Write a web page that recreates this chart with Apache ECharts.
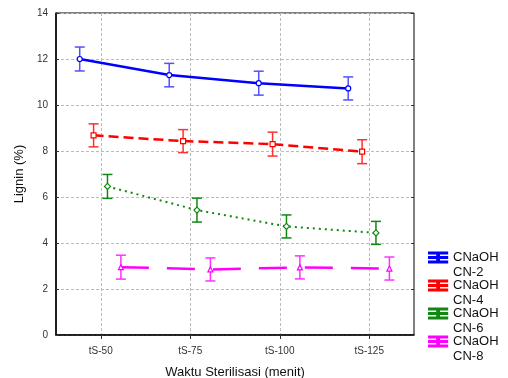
<!DOCTYPE html>
<html lang="en" style="height: 100%">
<head>
<meta charset="utf-8">
<title>Lignin vs Waktu Sterilisasi</title>
</head>
<body style="height: 100%; margin: 0; background: #fff">
<div id="container" style="height: 100%"></div>
<script type="text/javascript" src="https://cdn.jsdelivr.net/npm/echarts/dist/echarts.min.js"></script>
<script type="text/javascript">
// data
const categories = ['tS-50', 'tS-75', 'tS-100', 'tS-125'];
const seriesNames = ['CNaOH CN-2', 'CNaOH CN-4', 'CNaOH CN-6', 'CNaOH CN-8'];
const cn2Mean = [12.0, 11.3, 10.95, 10.72];
const cn2Err = [0.52, 0.51, 0.52, 0.5];
const cn4Mean = [8.68, 8.43, 8.3, 7.97];
const cn4Err = [0.5, 0.5, 0.52, 0.52];
const cn6Mean = [6.46, 5.43, 4.72, 4.44];
const cn6Err = [0.52, 0.52, 0.5, 0.5];
const cn8Mean = [2.95, 2.85, 2.94, 2.89];
const cn8Err = [0.52, 0.5, 0.5, 0.5];

const yTicks = [0, 2, 4, 6, 8, 10, 12, 14];

var dom = document.getElementById('container');
var myChart = echarts.init(dom);

// horizontal dodge of each series within a category (in category units)
const dodge = [-0.235, -0.08, 0.075, 0.225];
const colors = ['#0000ff', '#ff0000', '#118811', '#ff00ff'];
const barColors = ['#5050ff', '#ff3030', '#118811', '#ff30ff'];
const symbols = ['circle', 'rect', 'diamond', 'triangle'];
const dashes = ['solid', [10, 5], [2, 4], [28, 18]];
const widths = [2.5, 2.5, 2, 2.5];
const means = [cn2Mean, cn4Mean, cn6Mean, cn8Mean];
const errs = [cn2Err, cn4Err, cn6Err, cn8Err];

const series = [];
means.forEach(function (m, s) {
    series.push({
        name: seriesNames[s],
        type: 'line',
        data: m.map(function (v, i) { return [i + 1 + dodge[s], v]; }),
        symbol: symbols[s],
        symbolSize: s === 2 ? 6 : 5,
        showSymbol: true,
        color: colors[s],
        lineStyle: { color: colors[s], width: widths[s], type: dashes[s] },
        itemStyle: { color: '#fff', borderColor: colors[s], borderWidth: 1.2 },
        z: 3
    });
    series.push({
        name: seriesNames[s],
        type: 'custom',
        data: m.map(function (v, i) { return [i + 1 + dodge[s], v - errs[s][i], v + errs[s][i]]; }),
        encode: { x: 0, y: [1, 2] },
        z: 2,
        renderItem: function (params, api) {
            const x = api.value(0);
            const lo = api.coord([x, api.value(1)]);
            const hi = api.coord([x, api.value(2)]);
            const w = 5;
            const st = { stroke: barColors[s], lineWidth: 1.5 };
            return {
                type: 'group',
                children: [
                    { type: 'line', shape: { x1: lo[0], y1: lo[1], x2: hi[0], y2: hi[1] }, style: st },
                    { type: 'line', shape: { x1: lo[0] - w, y1: lo[1], x2: lo[0] + w, y2: lo[1] }, style: st },
                    { type: 'line', shape: { x1: hi[0] - w, y1: hi[1], x2: hi[0] + w, y2: hi[1] }, style: st }
                ]
            };
        }
    });
});

const tickPos = categories.map(function (c, i) { return i + 1; });

option = {
    animation: false,
    textStyle: { fontFamily: 'Liberation Sans, Arial, sans-serif' },
    grid: {
        left: 56, right: 94, top: 13, bottom: 43,
        outerBoundsMode: 'none',
        show: true, borderColor: '#000', borderWidth: 1
    },
    legend: {
        orient: 'vertical',
        left: 428,
        top: 235,
        padding: 0,
        itemWidth: 20,
        itemHeight: 10,
        itemGap: -17,
        data: seriesNames.map(function (n, i) {
            return { name: n, icon: 'path://M0,0 L20,0 L20,1 L0,1 Z M0,5 L20,5 L20,6 L0,6 Z M0,10 L20,10 L20,11 L0,11 Z M9,0 L11,0 L11,11 L9,11 Z', itemStyle: { color: colors[i] } };
        }),
        // blank first line keeps the icon level with the first text line
        formatter: function (name) { return ' \n' + name.replace(' ', '\n'); },
        textStyle: { fontSize: 13, color: '#111', lineHeight: 15 }
    },
    xAxis: [{
        type: 'value',
        min: 0.5,
        max: 4.5,
        name: 'Waktu Sterilisasi (menit)',
        nameLocation: 'middle',
        nameGap: 31,
        nameTextStyle: { fontSize: 13, color: '#111' },
        axisLine: { lineStyle: { color: '#000', width: 1.5 } },
        axisTick: { show: false, customValues: tickPos },
        axisLabel: {
            customValues: tickPos,
            fontSize: 10,
            color: '#333',
            margin: 11,
            formatter: function (v) { return categories[Math.round(v) - 1] || ''; }
        },
        splitLine: { show: true, lineStyle: { color: '#bbb', type: [3, 2] } }
    }, {
        type: 'value',
        position: 'top',
        min: 0.5,
        max: 4.5,
        axisLine: { show: false },
        axisTick: { show: true, inside: true, length: 4, customValues: tickPos, lineStyle: { color: '#333' } },
        axisLabel: { show: false, customValues: tickPos },
        splitLine: { show: false }
    }],
    yAxis: [{
        type: 'value',
        min: yTicks[0],
        max: yTicks[yTicks.length - 1],
        interval: 2,
        name: 'Lignin (%)',
        nameLocation: 'middle',
        nameGap: 26,
        nameTextStyle: { fontSize: 13, color: '#111' },
        axisLine: { show: true, lineStyle: { color: '#000', width: 1.5 } },
        axisTick: { show: true, inside: true, length: 3, lineStyle: { color: '#333' } },
        axisLabel: { fontSize: 10, color: '#333', margin: 8 },
        splitLine: { show: true, lineStyle: { color: '#bbb', type: [3, 2] } }
    }, {
        type: 'value',
        position: 'right',
        min: yTicks[0],
        max: yTicks[yTicks.length - 1],
        interval: 2,
        axisLine: { show: false },
        axisTick: { show: true, inside: true, length: 3, lineStyle: { color: '#333' } },
        axisLabel: { show: false },
        splitLine: { show: false }
    }],
    series: series
};

if (option && typeof option === 'object') {
    myChart.setOption(option);
}
window.addEventListener('resize', myChart.resize);
</script>
</body>
</html>
